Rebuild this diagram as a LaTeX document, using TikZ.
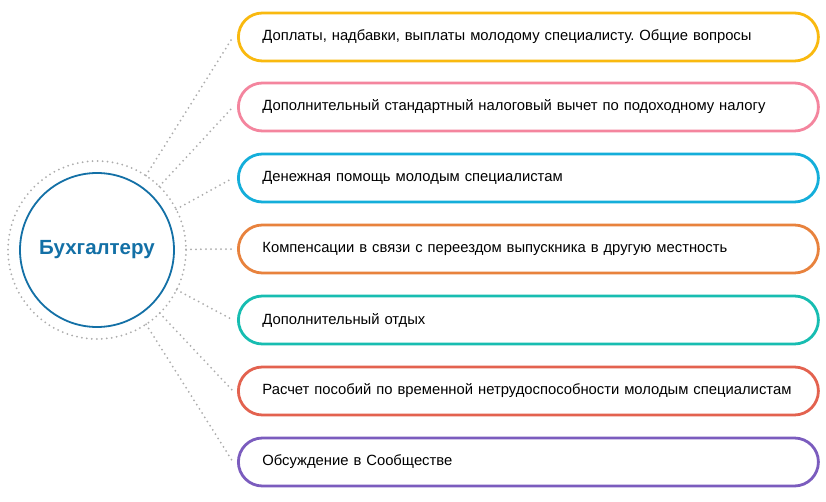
\documentclass[tikz,border=0pt]{standalone}
\usepackage{fontspec}
\setmainfont{Liberation Sans}
\usetikzlibrary{calc}
\definecolor{c1}{HTML}{F9B90F}
\definecolor{c2}{HTML}{F4859E}
\definecolor{c3}{HTML}{14AEDA}
\definecolor{c4}{HTML}{E8823D}
\definecolor{c5}{HTML}{17BDB1}
\definecolor{c6}{HTML}{E3624F}
\definecolor{c7}{HTML}{7B5CBE}
\definecolor{cb}{HTML}{1370A6}
\tikzset{
 item/.style={draw=#1, line width=2.8pt, rounded corners=24pt, minimum width=580pt, minimum height=48pt, anchor=west, inner xsep=24pt, text width=532pt, align=left, font=\fontsize{14.8}{16}\selectfont},
 conn/.style={draw=gray!65, line width=2pt, dash pattern=on 0pt off 5pt, line cap=round},
}
\frenchspacing
\begin{document}
\begin{tikzpicture}[x=1pt,y=-1pt]
\useasboundingbox (0,0) rectangle (826,502);
\fill[white] (0,0) rectangle (826,502);
\coordinate (c) at (97,250);
\draw[conn] (c) circle (89);
\foreach \i/\y/\t in {1/37/{Доплаты, надбавки, выплаты молодому специалисту. Общие вопросы},
 2/107/{Дополнительный стандартный налоговый вычет по подоходному налогу},
 3/178/{Денежная помощь молодым специалистам},
 4/249/{Компенсации в связи с переездом выпускника в другую местность},
 5/320/{Дополнительный отдых},
 6/391/{Расчет пособий по временной нетрудоспособности молодым специалистам},
 7/462/{Обсуждение в Сообществе}} {
  \node[item=c\i] (b\i) at (237,\y) {\frenchspacing\t};
  \draw[conn] ($(c)!89pt!(b\i.west)$) -- ($(b\i.west)+(-4,0)$);
}
\draw[cb, line width=1.8pt, fill=white] (c) circle (77);
\node[font=\bfseries\fontsize{20.5}{24}\selectfont, text=cb] (m) at (c) {Бухгалтеру};
\end{tikzpicture}
\end{document}
